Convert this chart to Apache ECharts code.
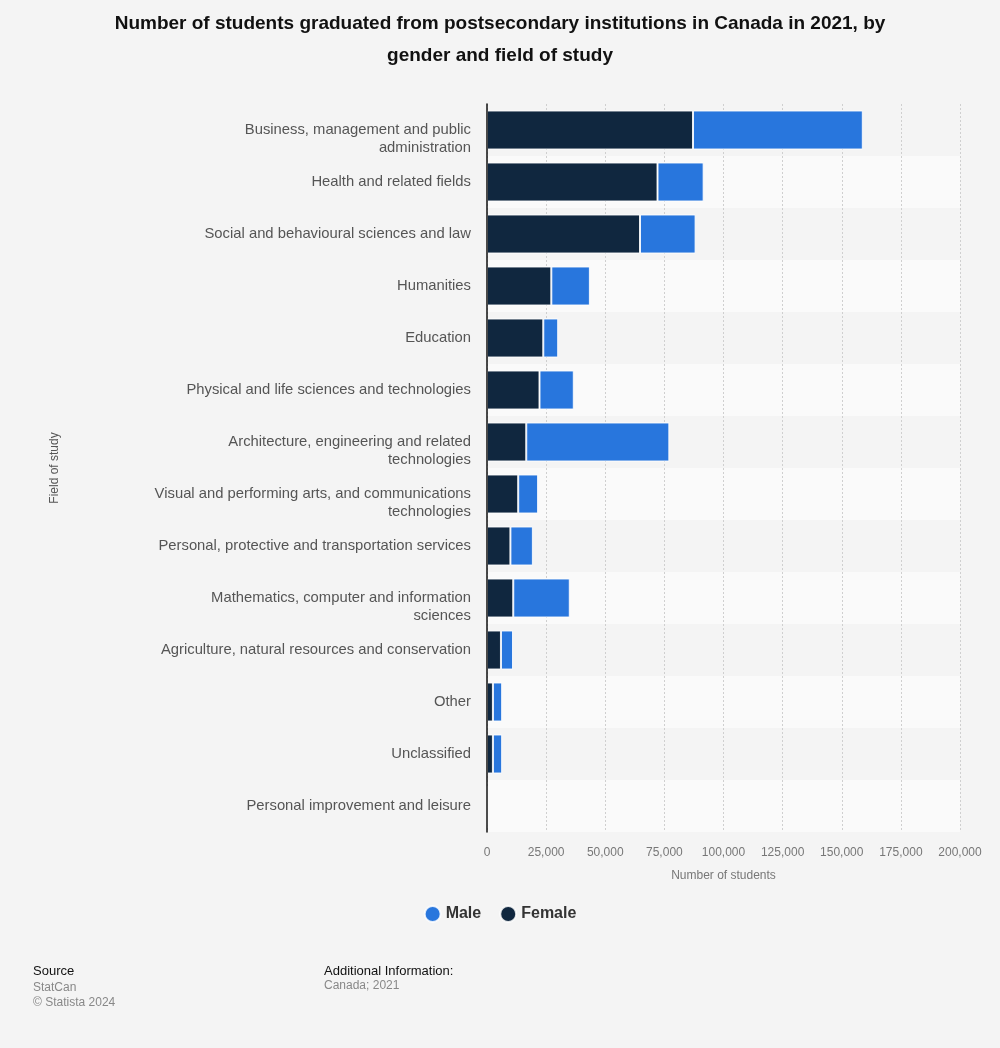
<!DOCTYPE html>
<html>
<head>
<meta charset="utf-8">
<script src="https://cdn.jsdelivr.net/npm/echarts@6/dist/echarts.min.js"></script>
<style>
  html, body { margin: 0; padding: 0; background: #f4f4f4; }
  #chart { width: 1000px; height: 1048px; }
</style>
</head>
<body>
<div id="chart"></div>
<script>
var categories = [
    "Business, management and public\nadministration",
    "Health and related fields",
    "Social and behavioural sciences and law",
    "Humanities",
    "Education",
    "Physical and life sciences and technologies",
    "Architecture, engineering and related\ntechnologies",
    "Visual and performing arts, and communications\ntechnologies",
    "Personal, protective and transportation services",
    "Mathematics, computer and information\nsciences",
    "Agriculture, natural resources and conservation",
    "Other",
    "Unclassified",
    "Personal improvement and leisure"
];
var femaleValues = [87100, 72100, 64700, 27200, 23800, 22200, 16600, 13200, 9900, 11100, 5900, 2500, 2500, 0];
var maleValues = [71800, 19500, 23500, 16300, 6300, 14500, 60500, 8400, 9500, 23900, 5100, 3900, 3900, 0];

var font = "'Liberation Sans', Arial, sans-serif";
var chart = echarts.init(document.getElementById("chart"));

function fmt(v) {
    return String(v).replace(/\B(?=(\d{3})+(?!\d))/g, ",");
}

var option = {
    backgroundColor: "#f4f4f4",
    textStyle: { fontFamily: font },
    title: [
        {
            text: "Source",
            left: 33, top: 965, padding: 0,
            textStyle: { fontSize: 13, fontWeight: "normal", color: "#111", fontFamily: font }
        },
        {
            text: "StatCan\n© Statista 2024",
            left: 33, top: 980, padding: 0,
            textStyle: { fontSize: 12, fontWeight: "normal", color: "#888", lineHeight: 15, fontFamily: font }
        },
        {
            text: "Additional Information:",
            left: 324, top: 965, padding: 0,
            textStyle: { fontSize: 13, fontWeight: "normal", color: "#111", fontFamily: font }
        },
        {
            text: "Canada; 2021",
            left: 324, top: 980, padding: 0,
            textStyle: { fontSize: 12, fontWeight: "normal", color: "#888", fontFamily: font }
        }
    ],
    graphic: [
        {
            type: "text",
            x: 500,
            y: 8,
            style: {
                text: "Number of students graduated from postsecondary institutions in Canada in 2021, by\ngender and field of study",
                textAlign: "center",
                font: "bold 19px " + font,
                fill: "#111",
                lineHeight: 32
            }
        }
    ],
    legend: {
        data: ["Male", "Female"],
        left: "center",
        top: 900,
        icon: "circle",
        itemWidth: 16,
        itemHeight: 16,
        itemGap: 18,
        textStyle: { fontSize: 16, fontWeight: "bold", color: "#333", fontFamily: font }
    },
    grid: { left: 487, right: 40, top: 104, bottom: 216, containLabel: false },
    xAxis: {
        type: "value",
        min: 0,
        max: 200000,
        interval: 25000,
        name: "Number of students",
        nameLocation: "middle",
        nameGap: 38,
        nameTextStyle: { fontSize: 12, color: "#777", fontFamily: font },
        axisLine: { show: false },
        axisTick: { show: false },
        axisLabel: {
            fontSize: 12, color: "#777", margin: 15, fontFamily: font,
            formatter: function (v) { return fmt(v); }
        },
        splitLine: { show: true, lineStyle: { type: [2, 2], color: "#cfcfcf", width: 1 } }
    },
    yAxis: [
        {
            type: "category",
            data: categories,
            inverse: true,
            name: "Field of study",
            nameLocation: "middle",
            nameGap: 426,
            nameRotate: 90,
            nameTextStyle: { fontSize: 12, color: "#555", fontFamily: font },
            axisLine: { show: false },
            axisTick: { show: false },
            axisLabel: {
                fontSize: 14.8, color: "#555", margin: 16, lineHeight: 18, fontFamily: font,
                // two-line labels start on the row centre, like the original
                formatter: function (v) { return v.indexOf("\n") >= 0 ? " \n" + v : v; }
            },
            splitArea: { show: true, areaStyle: { color: ["#f4f4f4", "#fafafa"] } }
        },
        {
            // only the dark axis line, drawn over the bars
            type: "category",
            data: categories,
            inverse: true,
            position: "left",
            z: 5,
            axisLine: { show: true, lineStyle: { color: "#111", width: 1.5 } },
            axisTick: { show: false },
            axisLabel: { show: false },
            splitLine: { show: false },
            splitArea: { show: false }
        }
    ],
    series: [
        {
            name: "Female",
            type: "bar",
            stack: "total",
            barWidth: "75%",
            itemStyle: { color: "#10273f", borderColor: "rgba(255,255,255,0.85)", borderWidth: 1 },
            data: femaleValues
        },
        {
            name: "Male",
            type: "bar",
            stack: "total",
            barWidth: "75%",
            itemStyle: { color: "#2876dd", borderColor: "rgba(255,255,255,0.85)", borderWidth: 1 },
            data: maleValues
        }
    ]
};

chart.setOption(option);
</script>
</body>
</html>
